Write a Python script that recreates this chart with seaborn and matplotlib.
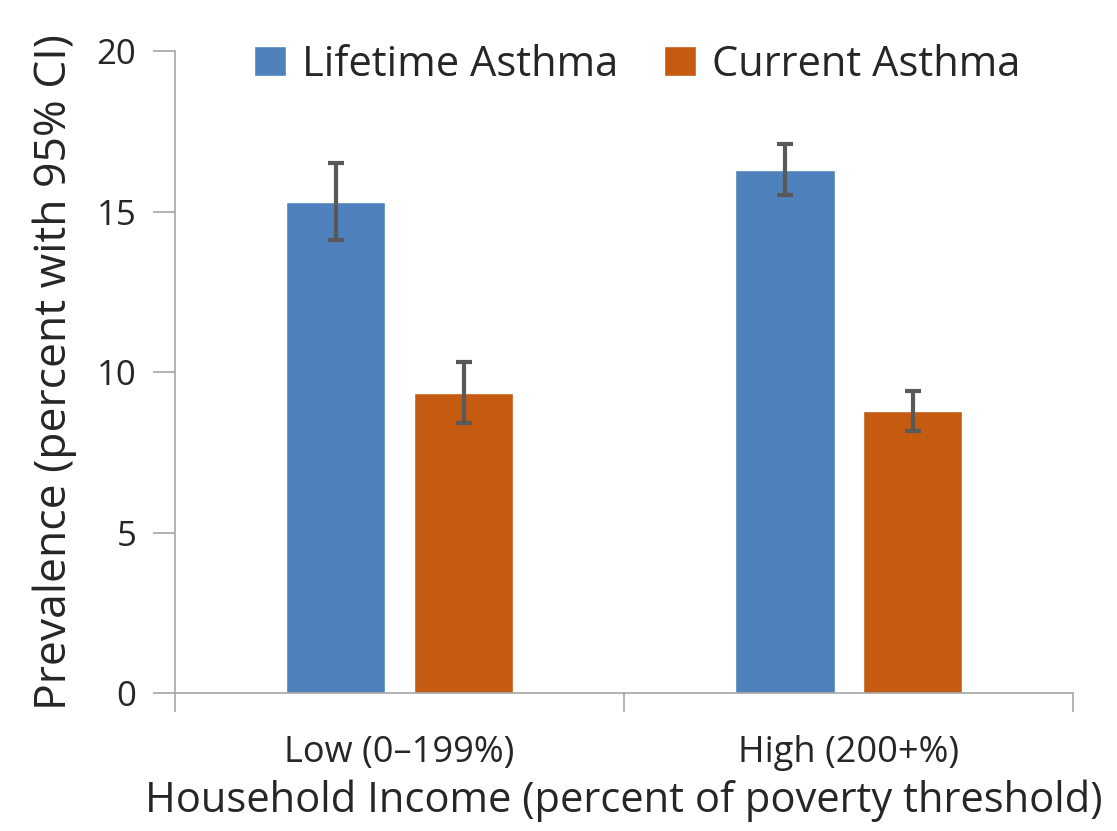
import numpy as np
import pandas as pd
import matplotlib
matplotlib.use("Agg")
import matplotlib.pyplot as plt
import seaborn as sns

# ── data ──────────────────────────────────────────────────────────────────────
income_groups = ["Low (0–199%)", "High (200+%)"]
measures      = ["Lifetime Asthma", "Current Asthma"]
lifetime_vals = [15.3, 16.3]
lifetime_lo   = [14.1, 15.5]
lifetime_hi   = [16.5, 17.1]
current_vals  = [9.35, 8.8]
current_lo    = [8.4, 8.15]
current_hi    = [10.3, 9.4]

COLORS = {"Lifetime Asthma": "#4F81BD", "Current Asthma": "#C55A11"}
GREY   = "#A6A6A6"

df = pd.DataFrame({
    "group":   income_groups * 2,
    "measure": [measures[0]] * 2 + [measures[1]] * 2,
    "value":   lifetime_vals + current_vals,
    "lo":      lifetime_lo + current_lo,
    "hi":      lifetime_hi + current_hi,
})

sns.set_theme(style="white")
plt.rcParams["font.family"] = ["Open Sans", "DejaVu Sans"]

fig = plt.figure(figsize=(11.17, 8.31), dpi=100)
ax = fig.add_axes([0.1567, 0.166, 0.804, 0.7726])

sns.barplot(data=df, x="group", y="value", hue="measure", order=income_groups,
            hue_order=measures, palette=COLORS, width=0.57, gap=0.22,
            errorbar=None, saturation=1, ax=ax, legend=True)

# error bars placed on the bar centres seaborn produced
for container, m in zip(ax.containers, measures):
    sub = df[df["measure"] == m].set_index("group").loc[income_groups]
    xs = [p.get_x() + p.get_width() / 2 for p in container.patches]
    yerr = np.vstack([sub["value"] - sub["lo"], sub["hi"] - sub["value"]])
    ax.errorbar(xs, sub["value"], yerr=yerr, fmt="none", ecolor="#595959",
                elinewidth=3, capsize=6, capthick=3, zorder=3)

ax.set_xlim(-0.5, 1.5)
ax.set_ylim(0, 20)
ax.set_yticks([0, 5, 10, 15, 20])
ax.tick_params(axis="y", labelsize=25, length=16, width=1.2, color=GREY,
               direction="out", left=True, pad=12)
ax.tick_params(axis="x", which="major", labelsize=26, length=0, pad=30)
ax.set_xticks([-0.5, 0.5, 1.5], minor=True)
ax.tick_params(axis="x", which="minor", length=14, width=1.2, color=GREY,
               direction="out", bottom=True)

for side in ["top", "right"]:
    ax.spines[side].set_visible(False)
for side in ["left", "bottom"]:
    ax.spines[side].set_color(GREY)
    ax.spines[side].set_linewidth(1.2)

ax.set_xlabel("Household Income (percent of poverty threshold)", fontsize=30,
              labelpad=6)
ax.set_ylabel("Prevalence (percent with 95% CI)", fontsize=32, labelpad=14)

ax.legend(loc="upper center", bbox_to_anchor=(0.515, 1.07), ncol=2, frameon=False,
          fontsize=30, handlelength=0.75, handleheight=0.75, columnspacing=1.1,
          handletextpad=0.4)

fig.savefig("out.png", dpi=100)
